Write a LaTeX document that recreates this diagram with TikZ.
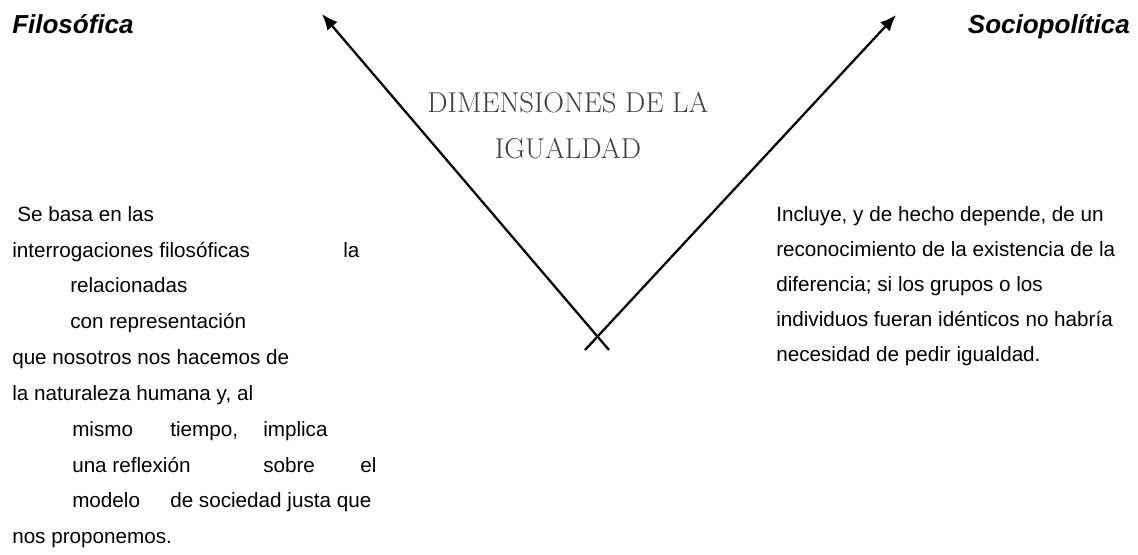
\documentclass[tikz,border=0pt]{standalone}
\usepackage{fontspec}
\newfontfamily\arialfont{Liberation Sans}
\usetikzlibrary{arrows.meta,calc}
\tikzset{
    texto/.style = {font=\arialfont\fontsize{15.5}{18}\selectfont,
        anchor=base west, inner sep=0pt},
    titulo/.style = {font=\arialfont\bfseries\itshape\fontsize{19.5}{22}\selectfont,
        inner sep=0pt},
    cabecera/.style = {font=\fontsize{21.5}{24}\selectfont, text=black!75,
        anchor=base, inner sep=0pt},
    flecha/.style = {draw, line width=1.7pt, -{Latex[length=12pt,width=10pt]}}
}

\begin{document}
\begin{tikzpicture}[x=0.75pt,y=-0.75pt]
                    \useasboundingbox (0,0) rectangle (1138,554);
                    % titulos de las dimensiones
                    \node[titulo,anchor=base west] (filo) at (12,33) {Filosófica};
                    \node[titulo,anchor=base east] (socio) at (1130,33) {Sociopolítica};
                    \node[cabecera] (dim) at (568,112) {DIMENSIONES DE LA};
                    \node[cabecera] (igu) at (568,158) {IGUALDAD};
                    % flechas en V
                    \coordinate (pieIzq) at (609,350);
                    \coordinate (puntaIzq) at (322,14);
                    \coordinate (pieDer) at (585,350);
                    \coordinate (puntaDer) at (896,15);
                    \draw[flecha] (pieIzq) -- (puntaIzq);
                    \draw[flecha] (pieDer) -- (puntaDer);
                    % texto filosofica
                    \node[texto] (izq1) at (17,221) {Se basa en las};
                    \node[texto] (izq2) at (12,257) {interrogaciones filosóficas};
                    \node[texto] (izq2b) at (343,257) {la};
                    \node[texto] (izq3) at (70,292) {relacionadas};
                    \node[texto] (izq4) at (70,328) {con representación};
                    \node[texto] (izq5) at (12,364) {que nosotros nos hacemos de};
                    \node[texto] (izq6) at (12,400) {la naturaleza humana y, al};
                    \node[texto] (izq7) at (72,436) {mismo};
                    \node[texto] (izq7b) at (170,436) {tiempo,};
                    \node[texto] (izq7c) at (263,436) {implica};
                    \node[texto] (izq8) at (72,472) {una reflexión};
                    \node[texto] (izq8b) at (263,472) {sobre};
                    \node[texto] (izq8c) at (360,472) {el};
                    \node[texto] (izq9) at (72,507) {modelo};
                    \node[texto] (izq9b) at (170,507) {de sociedad justa que};
                    \node[texto] (izq10) at (12,543) {nos proponemos.};
                    % texto sociopolitica
                    \foreach \linea [count=\i] in {{Incluye, y de hecho depende, de un},
                        {reconocimiento de la existencia de la},
                        {diferencia; si los grupos o los},
                        {individuos fueran idénticos no habría},
                        {necesidad de pedir igualdad.}}{
                        \node[texto] (der\i) at (776,{221+35*(\i-1)}) {\linea};
                    }
                    \end{tikzpicture}
\end{document}
